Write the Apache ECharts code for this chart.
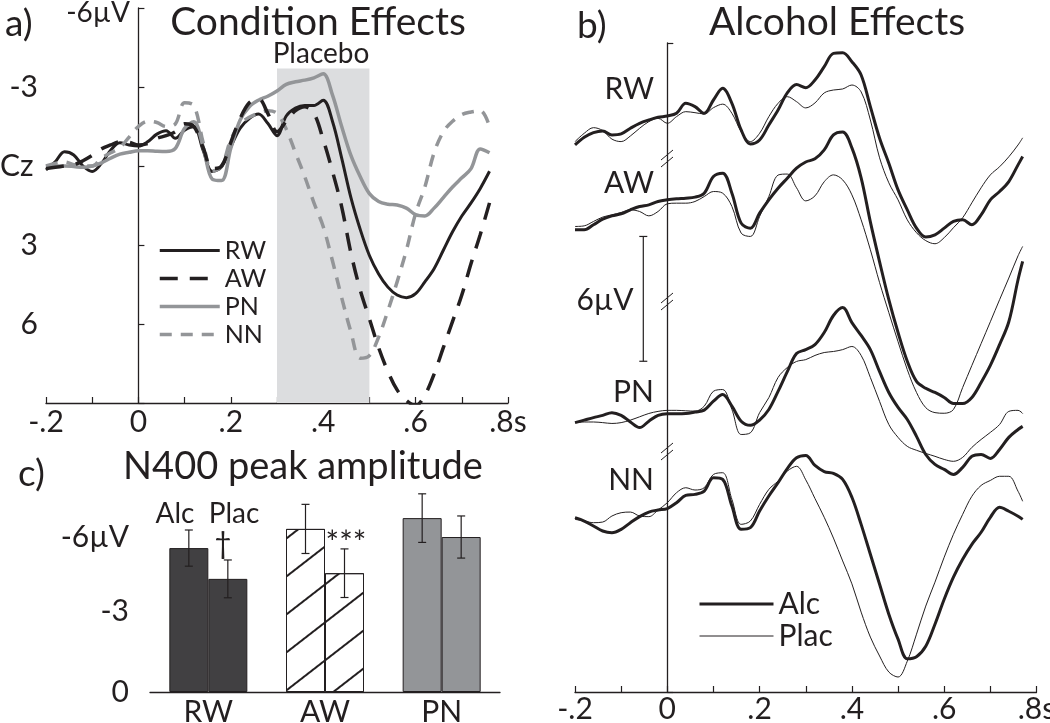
<!DOCTYPE html>
<html>
<head>
<meta charset="utf-8">
<script src="https://cdn.jsdelivr.net/npm/echarts@6/dist/echarts.min.js"></script>
<style>
  html, body { margin: 0; background: #fff; }
  #chart { width: 1050px; height: 723px; }
</style>
</head>
<body>
<div id="chart"></div>
<script>
// time points (s)
const tA = [-0.2,-0.18,-0.16,-0.14,-0.12,-0.1,-0.08,-0.06,-0.04,-0.02,0,0.02,0.04,0.06,0.08,0.1,0.12,0.14,0.16,0.18,0.2,0.22,0.24,0.26,0.28,0.3,0.32,0.34,0.36,0.38,0.4,0.42,0.44,0.46,0.48,0.5,0.52,0.54,0.56,0.58,0.6,0.62,0.64,0.66,0.68,0.7,0.72,0.74,0.76];
const tB = tA.concat([0.77]);

// a) condition effects, placebo, Cz (uV)
const rwA = [0.15,-0.16,-0.54,-0.42,0,0.21,-0.1,-0.6,-0.88,-0.8,-0.76,-0.92,-1.21,-1.34,-1.05,-1.36,-1.49,-0.6,0.21,0.03,-0.73,-1.43,-1.8,-1.97,-1.62,-1.15,-1.9,-2.2,-2.3,-2.3,-2.5,-1.7,-0.3,1.2,2.4,3.4,4.1,4.6,4.9,5.0,4.85,4.4,3.9,3.2,2.5,1.9,1.4,0.85,0.2];
const awA = [0.1,0.05,0,-0.05,-0.2,-0.4,-0.65,-0.8,-0.92,-0.9,-0.8,-0.85,-1.05,-1.15,-1.3,-1.6,-1.5,-0.7,0.1,0,-0.9,-1.8,-2.4,-2.55,-2.0,-1.3,-1.7,-2.1,-2.25,-2.0,-1.0,0.2,1.55,3.3,4.7,5.8,6.9,7.8,8.5,8.9,9.1,8.7,7.9,6.9,5.9,4.9,3.7,2.6,1.4];
const pnA = [0.05,0,0,0.02,0.05,0,-0.12,-0.3,-0.45,-0.52,-0.58,-0.58,-0.56,-0.55,-0.67,-1.43,-1.68,-0.73,0.5,0.55,-0.67,-1.74,-2.25,-2.5,-2.65,-2.85,-3.1,-3.2,-3.26,-3.35,-3.5,-2.7,-1.5,-0.4,0.4,1.05,1.35,1.45,1.48,1.6,1.85,1.9,1.6,1.2,0.8,0.45,0.1,-0.65,-0.5];
const nnA = [0,-0.1,-0.15,-0.05,0,0,-0.3,-0.5,-0.7,-1.1,-1.5,-1.7,-1.65,-1.5,-1.6,-2.4,-2.3,-0.9,0.2,0,-1.0,-1.6,-1.85,-2.0,-2.1,-2.0,-1.4,-0.5,0.4,1.4,2.3,3.6,5.0,6.3,7.3,7.2,6.5,5.5,4.4,3.2,1.8,0.8,-0.5,-1.3,-1.7,-1.95,-2.05,-2.1,-1.5];

// b) alcohol effects (uV, each trace relative to its own baseline)
const rwAlc = [0.9,0.53,0.31,0.23,0.42,0.37,0.1,-0.14,-0.3,-0.43,-0.49,-0.62,-1.1,-0.94,-0.62,-1.26,-1.82,-1.1,0.18,0.85,0.66,-0.06,-0.78,-1.6,-2.0,-1.85,-2.22,-2.86,-3.5,-3.53,-3.1,-2.46,-0.94,0.58,1.78,3.06,4.02,4.9,5.33,5.22,4.9,4.58,4.5,4.74,4.26,3.54,3.14,2.66,1.86,1.46];
const rwPlac = [0.74,0.34,0.07,0.21,0.62,0.74,0.47,0.1,-0.22,-0.38,-0.14,-0.46,-0.7,-0.65,-0.59,-0.89,-1.06,-0.62,0.26,0.74,0.34,-0.46,-1.1,-1.42,-1.18,-0.88,-1.12,-1.6,-1.74,-1.79,-1.98,-1.65,-0.3,1.52,2.72,3.54,4.5,5.12,5.5,5.65,5.36,4.88,4.4,3.68,2.96,2.34,1.95,1.47,0.9,0.56];
const awAlc = [0.98,0.98,0.74,0.47,0.31,0.21,0.02,-0.14,-0.22,-0.38,-0.46,-0.51,-0.54,-0.59,-0.78,-1.58,-1.74,-0.78,0.66,0.9,0.18,-0.46,-1.02,-1.5,-1.98,-2.28,-2.43,-2.86,-3.58,-3.72,-2.96,-1.52,0.6,2.52,4.34,5.92,7.3,8.27,8.6,8.8,9.04,9.33,9.33,9.04,8.32,7.5,6.5,5.4,3.38,2.5];
const awPlac = [0.82,0.79,0.58,0.37,0.26,0.15,0.02,0.1,0.31,0.1,-0.27,-0.3,-0.3,-0.38,-0.62,-0.86,-0.78,-0.14,1.14,1.3,0.34,-0.62,-1.65,-1.7,-1.04,-0.41,-0.65,-1.33,-1.66,-1.42,-0.7,0.5,1.94,3.52,4.96,6.36,7.7,8.8,9.53,9.77,9.8,9.62,8.56,7.5,6.45,5.4,4.34,3.3,2.23,1.78];
const pnAlc = [0.25,0.13,0.01,-0.1,-0.23,-0.1,0.22,0.49,0.18,-0.1,-0.18,-0.18,-0.19,-0.26,-0.35,-0.78,-1.1,-0.54,0.18,0.38,0.13,-0.38,-1.25,-2.2,-3.07,-3.26,-3.5,-4.08,-4.9,-5.28,-4.56,-3.94,-3.26,-2.2,-1.2,-0.48,0.1,0.91,1.78,2.26,2.5,2.74,2.4,1.87,1.78,1.97,1.54,0.96,0.58,0.43];
const pnPlac = [0.25,0.22,0.22,0.25,0.29,0.25,0.13,-0.03,-0.19,-0.29,-0.34,-0.34,-0.32,-0.3,-0.54,-1.26,-1.34,-0.38,0.82,0.74,-0.23,-0.95,-1.92,-2.4,-2.69,-2.78,-2.98,-3.12,-3.17,-3.26,-3.41,-2.98,-1.92,-0.77,0.34,0.96,1.39,1.58,1.73,1.87,2.02,2.11,1.92,1.44,1.06,0.72,0.34,-0.29,-0.34,-0.19];
const nnAlc = [0.32,0.48,0.72,0.96,1.04,0.88,0.56,0.27,0.05,-0.05,-0.12,-0.4,-0.75,-0.8,-0.96,-1.6,-1.52,-0.24,0.88,0.8,0,-0.72,-1.36,-2.04,-2.56,-2.67,-2.19,-1.9,-1.81,-1.52,-0.66,0.64,2.08,3.52,4.96,6.16,7.1,7.0,6.5,5.44,4.24,3.18,2.32,1.6,1.02,0.3,-0.18,0.01,0.25,0.4];
const nnPlac = [0.4,0.48,0.56,0.53,0.24,0.08,0.05,0.24,0.27,-0.05,-0.4,-0.88,-1.12,-1.01,-1.12,-1.76,-1.84,-0.56,0.64,0.48,-0.32,-1.04,-1.44,-1.92,-2.15,-1.5,-0.6,0.3,1.3,2.4,3.5,4.86,6.06,6.97,7.74,7.98,7.22,5.92,4.57,3.42,2.22,1.12,0.16,-0.71,-1.23,-1.47,-1.67,-1.67,-0.95,-0.47];

// c) N400 peak amplitude (uV)
const cats = ['RW', 'AW', 'PN'];
const alcMean = [-5.33, -6.04, -6.44];
const alcErr = [0.67, 0.91, 0.9];
const placMean = [-4.19, -4.4, -5.74];
const placErr = [0.7, 0.9, 0.78];

const INK = '#231f20';
const GREY = '#939598';
const FONT = 'Lato, "Open Sans", sans-serif';
const BAR_W = 39;

// stacking offsets for panel b (in uV down from the top)
const offB = { RW: 4, AW: 8, PN: 18, NN: 22.5 };

const fmtTime = v => {
  const k = Math.round(v * 10);
  if (k % 2) return '';
  if (k === 0) return '0';
  return (k < 0 ? '-.' : '.') + Math.abs(k) + (k === 8 ? 's' : '');
};

const axisLine = { lineStyle: { color: INK, width: 1.3 } };
const tick = { inside: true, length: 6, lineStyle: { color: INK, width: 1.2 } };

const lineA = (name, vals, color, width, dash) => ({
  name, type: 'line', xAxisIndex: 0, yAxisIndex: 0, z: 3,
  data: tA.map((t, i) => [t, vals[i]]),
  symbol: 'none', smooth: 0.35,
  lineStyle: { color, width, type: dash || 'solid' },
  itemStyle: { color }
});

const lineB = (name, vals, off, thick) => ({
  name, type: 'line', xAxisIndex: 1, yAxisIndex: 1, z: thick ? 4 : 3,
  data: tB.map((t, i) => [t, off + vals[i]]),
  symbol: 'none', smooth: 0.35,
  lineStyle: { color: INK, width: thick ? 3 : 1 },
  itemStyle: { color: INK }
});

const hatch = {
  symbol: 'rect', symbolSize: 1, color: INK,
  dashArrayX: [1, 0], dashArrayY: [2, 28], rotation: -0.66
};
const barFill = ['#414042', '#ffffff', GREY];

const barSeries = (name, means) => ({
  name, type: 'bar', xAxisIndex: 2, yAxisIndex: 2, z: 2,
  barWidth: BAR_W, barGap: '0%', clip: false,
  itemStyle: { borderColor: INK, borderWidth: 1 },
  data: means.map((v, i) => ({
    value: v,
    itemStyle: i === 1 ? { color: barFill[i], decal: hatch } : { color: barFill[i] }
  }))
});

const errData = alcMean.map((m, i) => [i, m, alcErr[i], -1])
  .concat(placMean.map((m, i) => [i, m, placErr[i], 1]));

const txt = (x, y, text, size, align) => ({
  type: 'text', x, y, z: 10,
  style: { text, fontSize: size, fontFamily: FONT, fill: INK, align: align || 'center', verticalAlign: 'middle' }
});
const slash = y0 => [
  { type: 'line', z: 10, shape: { x1: 661, y1: y0 + 3, x2: 673, y2: y0 - 7 }, style: { stroke: INK, lineWidth: 1 } },
  { type: 'line', z: 10, shape: { x1: 661, y1: y0 + 10, x2: 673, y2: y0 }, style: { stroke: INK, lineWidth: 1 } }
];

const legendBase = {
  orient: 'vertical', selectedMode: false,
  itemHeight: 14,
  itemStyle: { opacity: 0 },
  lineStyle: { width: 'inherit', type: 'inherit' }
};

const option = {
  animation: false,
  backgroundColor: '#fff',
  textStyle: { fontFamily: FONT, color: INK },
  grid: [
    { left: 46, top: 8, width: 462, height: 395, outerBoundsMode: 'none' },
    { left: 575, top: 43, width: 461.5, height: 649, outerBoundsMode: 'none' },
    { left: 150, top: 530, width: 350, height: 162, outerBoundsMode: 'none' }
  ],
  legend: [
    Object.assign({}, legendBase, {
      data: ['RW', 'AW', 'PN', 'NN'], left: 153, top: 233,
      itemWidth: 60, itemGap: 3,
      textStyle: { fontSize: 25, lineHeight: 24, color: INK, fontFamily: FONT }
    }),
    Object.assign({}, legendBase, {
      data: ['Alc', 'Plac'], left: 693, top: 584,
      itemWidth: 74, itemGap: 2,
      textStyle: { fontSize: 30, lineHeight: 28, color: INK, fontFamily: FONT }
    })
  ],
  xAxis: [
    {
      type: 'value', gridIndex: 0, min: -0.2, max: 0.8, interval: 0.1,
      axisLine: { onZero: false, ...axisLine }, axisTick: tick, splitLine: { show: false },
      axisLabel: { formatter: fmtTime, fontSize: 30, color: INK, margin: 4 }
    },
    {
      type: 'value', gridIndex: 1, min: -0.2, max: 0.8, interval: 0.1,
      axisLine: { onZero: false, ...axisLine }, axisTick: tick, splitLine: { show: false },
      axisLabel: { formatter: fmtTime, fontSize: 30, color: INK, margin: 2 }
    },
    {
      type: 'category', gridIndex: 2, data: cats,
      axisLine: { onZero: false, ...axisLine }, axisTick: { show: false },
      axisLabel: { fontSize: 30, color: INK, margin: 5 }
    }
  ],
  yAxis: [
    {
      type: 'value', gridIndex: 0, inverse: true, min: -6, max: 9, interval: 3,
      axisLine: { onZero: true, ...axisLine }, axisTick: tick, splitLine: { show: false },
      axisLabel: {
        fontSize: 30, color: INK, margin: 8,
        formatter: v => (v === -6 || v === 0 || v === 9) ? '' : String(v)
      }
    },
    {
      type: 'value', gridIndex: 1, inverse: true, min: 0, max: 31.2, interval: 31.2,
      axisLine: { onZero: true, ...axisLine }, axisTick: tick, splitLine: { show: false },
      axisLabel: { show: false }
    },
    {
      type: 'value', gridIndex: 2, inverse: true, min: -6, max: 0, interval: 3, offset: 13,
      axisLine: axisLine, axisTick: tick, splitLine: { show: false },
      axisLabel: {
        fontSize: 30, color: INK, margin: 8,
        formatter: v => v === -6 ? '{lo|-6µV}' : String(v),
        rich: { lo: { fontSize: 30, color: INK, fontFamily: FONT, padding: [14, 0, 0, 0] } }
      }
    }
  ],
  series: [
    Object.assign(lineA('RW', rwA, INK, 3), {
      markArea: {
        silent: true, itemStyle: { color: '#dcdddf' },
        data: [[{ coord: [0.3, -3.7] }, { coord: [0.5, 9] }]]
      }
    }),
    lineA('PN', pnA, GREY, 3.5),
    lineA('NN', nnA, GREY, 3.5, [12, 9]),
    lineA('AW', awA, INK, 3.5, [18, 12]),

    lineB('Alc', rwAlc, offB.RW, true),
    lineB('Plac', rwPlac, offB.RW, false),
    lineB('Alc', awAlc, offB.AW, true),
    lineB('Plac', awPlac, offB.AW, false),
    lineB('Alc', pnAlc, offB.PN, true),
    lineB('Plac', pnPlac, offB.PN, false),
    lineB('Alc', nnAlc, offB.NN, true),
    lineB('Plac', nnPlac, offB.NN, false),
    {
      // 6 uV scale bar
      type: 'custom', xAxisIndex: 1, yAxisIndex: 1, z: 5, clip: false,
      data: [[-0.052, 9.3, 15.3]],
      renderItem: (params, api) => {
        const a = api.coord([api.value(0), api.value(1)]);
        const b = api.coord([api.value(0), api.value(2)]);
        const st = { stroke: INK, lineWidth: 1.2 };
        return { type: 'group', children: [
          { type: 'line', shape: { x1: a[0], y1: a[1], x2: b[0], y2: b[1] }, style: st },
          { type: 'line', shape: { x1: a[0] - 4, y1: a[1], x2: a[0] + 4, y2: a[1] }, style: st },
          { type: 'line', shape: { x1: b[0] - 4, y1: b[1], x2: b[0] + 4, y2: b[1] }, style: st }
        ]};
      }
    },

    barSeries('Alc mean', alcMean),
    barSeries('Plac mean', placMean),
    {
      type: 'custom', xAxisIndex: 2, yAxisIndex: 2, z: 6, clip: false,
      data: errData,
      renderItem: (params, api) => {
        const cat = api.value(0), m = api.value(1), e = api.value(2), side = api.value(3);
        const x = api.coord([cat, m])[0] + side * BAR_W / 2;
        const y1 = api.coord([cat, m - e])[1];
        const y2 = api.coord([cat, m + e])[1];
        const st = { stroke: INK, lineWidth: 1.2 };
        return { type: 'group', children: [
          { type: 'line', shape: { x1: x, y1, x2: x, y2 }, style: st },
          { type: 'line', shape: { x1: x - 4, y1, x2: x + 4, y2: y1 }, style: st },
          { type: 'line', shape: { x1: x - 4, y1: y2, x2: x + 4, y2 }, style: st }
        ]};
      }
    }
  ],
  graphic: [
    txt(5, 24, 'a)', 37, 'left'),
    txt(130, 13, '-6µV', 28, 'right'),
    txt(318, 22, 'Condition Effects', 39),
    txt(321, 54, 'Placebo', 28),
    txt(0, 166, 'Cz', 30, 'left'),
    txt(577, 26, 'b)', 37, 'left'),
    txt(837, 22, 'Alcohol Effects', 39),
    txt(654, 89, 'RW', 30, 'right'),
    txt(654, 183, 'AW', 30, 'right'),
    txt(654, 392, 'PN', 30, 'right'),
    txt(654, 480, 'NN', 30, 'right'),
    txt(605, 300, '6µV', 30),
    txt(18, 474, 'c)', 37, 'left'),
    txt(303, 467, 'N400 peak amplitude', 38),
    txt(175, 514, 'Alc', 28),
    txt(234, 514, 'Plac', 28),
    txt(223, 544, '†', 30),
    txt(346, 544, '***', 32),
    ...slash(157), ...slash(300), ...slash(450)
  ]
};

const chart = echarts.init(document.getElementById('chart'));
chart.setOption(option);
</script>
</body>
</html>
